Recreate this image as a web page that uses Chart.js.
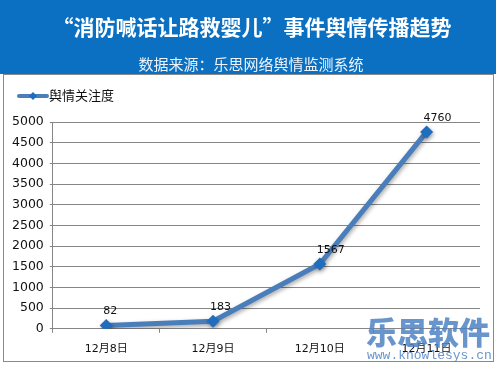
<!DOCTYPE html>
<html>
<head>
<meta charset="utf-8">
<script src="https://cdn.jsdelivr.net/npm/chart.js@4.4.1/dist/chart.umd.min.js"></script>
<style>
html,body{margin:0;padding:0;background:#fff;}
#wrap{width:499px;height:366px;position:relative;}
</style>
</head>
<body>
<div id="wrap"><canvas id="c" width="499" height="366"></canvas></div>
<script>
const categories = ['12月8日', '12月9日', '12月10日', '12月11日'];
const seriesName = '舆情关注度';
const values = [82, 183, 1567, 4760];
const yTicks = [0, 500, 1000, 1500, 2000, 2500, 3000, 3500, 4000, 4500, 5000];
const titleText = '“消防喊话让路救婴儿”事件舆情传播趋势';
const subtitleText = '数据来源：乐思网络舆情监测系统';
const watermarkText = '乐思软件';
const watermarkUrl = 'www.knowlesys.cn';

const LINE = '#4a7ebb';
const MARK = '#1f6dbf';

const framePlugin = {
  id: 'frame',
  beforeDraw(chart) {
    const ctx = chart.ctx;
    ctx.save();
    ctx.fillStyle = '#fff';
    ctx.fillRect(0, 0, chart.width, chart.height);
    ctx.fillStyle = '#0b70c1';
    ctx.fillRect(0, 0, 496, 74);
    ctx.strokeStyle = '#8a8a8a';
    ctx.lineWidth = 1;
    ctx.strokeRect(3.5, 74.5, 490, 287);
    ctx.textAlign = 'center';
    ctx.textBaseline = 'middle';
    ctx.fillStyle = '#ffffff';
    ctx.font = 'bold 21px "Noto Sans CJK SC"';
    ctx.fillText(titleText, 252, 27);
    ctx.fillStyle = '#eef3fa';
    ctx.font = '15px "Noto Sans CJK SC"';
    ctx.fillText(subtitleText, 251, 64);
    // legend (line + diamond marker)
    const ds = chart.data.datasets[0];
    ctx.strokeStyle = LINE; ctx.lineWidth = 4; ctx.lineCap = 'round';
    ctx.beginPath(); ctx.moveTo(19, 96); ctx.lineTo(47, 96); ctx.stroke();
    ctx.fillStyle = MARK;
    ctx.beginPath(); ctx.moveTo(33, 92); ctx.lineTo(37, 96); ctx.lineTo(33, 100); ctx.lineTo(29, 96); ctx.closePath(); ctx.fill();
    ctx.fillStyle = '#111';
    ctx.textAlign = 'left';
    ctx.font = '13px "Noto Sans CJK SC"';
    ctx.fillText(ds.label, 49, 95);
    ctx.restore();
  },
  beforeDatasetsDraw(chart) {
    const ctx = chart.ctx;
    ctx.save();
    ctx.shadowColor = 'rgba(0,0,0,0.35)';
    ctx.shadowBlur = 4;
    ctx.shadowOffsetX = 1;
    ctx.shadowOffsetY = 2;
  },
  afterDatasetsDraw(chart) {
    const ctx = chart.ctx;
    ctx.restore();
    const meta = chart.getDatasetMeta(0);
    ctx.save();
    ctx.fillStyle = '#111';
    ctx.font = '11px "DejaVu Sans"';
    ctx.textAlign = 'left';
    ctx.textBaseline = 'middle';
    meta.data.forEach((pt, i) => {
      ctx.fillText(String(values[i]), pt.x - 3, pt.y - 14);
    });
    ctx.restore();
  },
  afterDraw(chart) {
    const ctx = chart.ctx;
    ctx.save();
    ctx.globalAlpha = 0.85;
    ctx.fillStyle = '#4f83c4';
    ctx.textAlign = 'left';
    ctx.textBaseline = 'middle';
    ctx.font = '900 31px "Noto Sans CJK SC"';
    ctx.fillText(watermarkText, 366, 332);
    ctx.font = '13px "Liberation Mono"';
    ctx.fillText(watermarkUrl, 367, 356);
    ctx.restore();
  }
};

new Chart(document.getElementById('c'), {
  type: 'line',
  data: {
    labels: categories,
    datasets: [{
      label: seriesName,
      data: values,
      borderColor: LINE,
      borderWidth: 5,
      pointStyle: 'rectRot',
      pointRadius: 6.5,
      pointHoverRadius: 6.5,
      pointBackgroundColor: MARK,
      pointBorderColor: MARK,
      pointBorderWidth: 0,
      tension: 0,
      fill: false
    }]
  },
  options: {
    responsive: false,
    animation: false,
    events: [],
    layout: { padding: { left: 6, right: 19, top: 122, bottom: 0 } },
    plugins: {
      title: { display: false },
      tooltip: { enabled: false },
      legend: { display: false }
    },
    scales: {
      x: {
        offset: true,
        grid: { offset: true, drawOnChartArea: false, drawTicks: true, tickLength: 4, color: '#868686' },
        border: { color: '#868686' },
        ticks: { color: '#111', padding: 10, font: { size: 11, family: '"DejaVu Sans", "Noto Sans CJK SC"' } }
      },
      y: {
        min: 0,
        max: 5000,
        afterBuildTicks(scale) { scale.ticks = yTicks.map(v => ({ value: v })); },
        grid: { color: '#868686', tickLength: 3 },
        border: { color: '#868686' },
        ticks: { color: '#111', padding: 6, font: { size: 12.5, family: '"DejaVu Sans"' },
                 callback(v) { return String(v); } }
      }
    }
  },
  plugins: [framePlugin]
});
</script>
</body>
</html>
